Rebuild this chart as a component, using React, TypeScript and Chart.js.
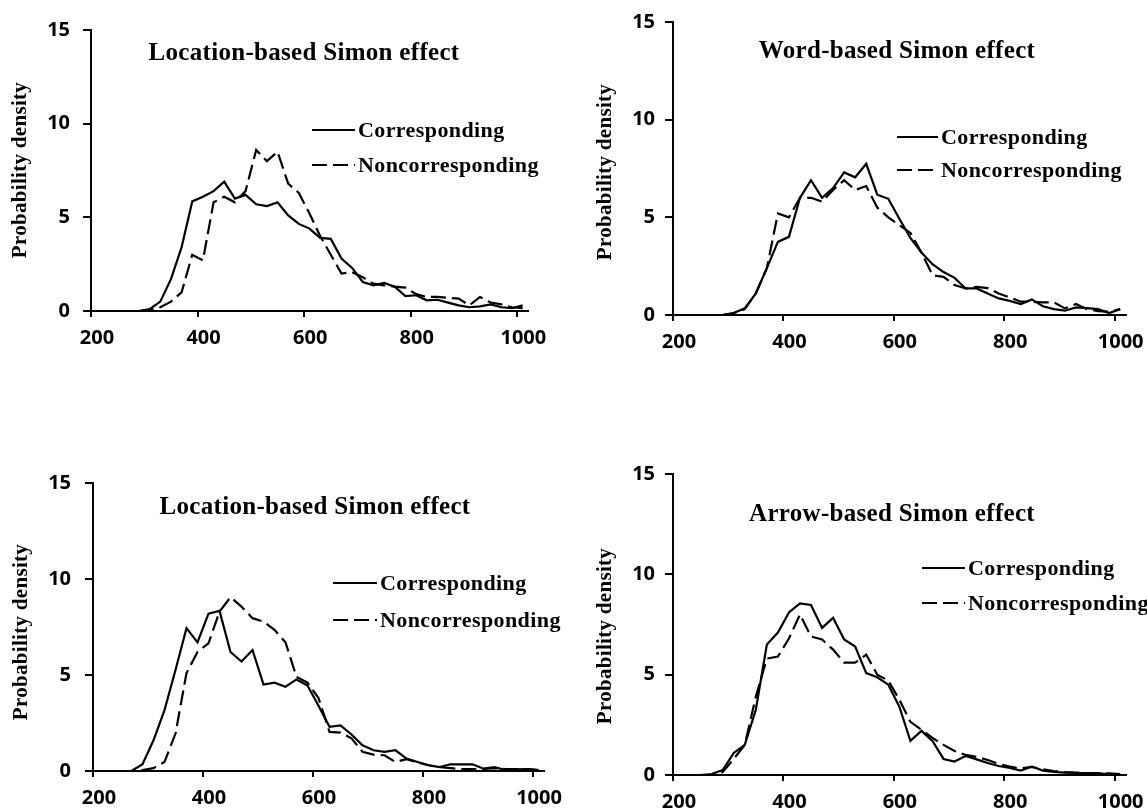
import React, { useEffect, useRef } from 'react';
import { Chart, registerables } from 'chart.js';

Chart.register(...registerables);

const RT_BINS = [250, 270, 290, 310, 330, 350, 370, 390, 410, 430, 450, 470, 490, 510, 530, 550, 570, 590, 610, 630, 650, 670, 690, 710, 730, 750, 770, 790, 810, 830, 850, 870, 890, 910, 930, 950, 970, 990, 1010];
const X_TICKS = [200, 400, 600, 800, 1000];
const Y_TICKS = [0, 5, 10, 15];

const LOC1_CORR = [0, 0, 0, 0.1, 0.5, 1.7, 3.4, 5.85, 6.1, 6.4, 6.9, 6.0, 6.2, 5.7, 5.6, 5.8, 5.1, 4.65, 4.4, 3.9, 3.85, 2.8, 2.3, 1.55, 1.37, 1.5, 1.3, 0.8, 0.84, 0.57, 0.6, 0.45, 0.3, 0.2, 0.25, 0.35, 0.2, 0.15, 0.3];
const LOC1_NONCORR = [0, 0, 0, 0.05, 0.2, 0.5, 1.0, 3.0, 2.7, 5.8, 6.1, 5.8, 6.4, 8.6, 8.0, 8.5, 6.8, 6.3, 5.2, 4.0, 3.0, 2.0, 2.07, 1.8, 1.46, 1.37, 1.3, 1.25, 0.9, 0.75, 0.75, 0.7, 0.66, 0.3, 0.75, 0.45, 0.35, 0.2, 0.15];
const WORD_CORR = [0, 0, 0, 0.1, 0.34, 1.1, 2.4, 3.74, 4.0, 6.0, 6.9, 6.0, 6.5, 7.3, 7.05, 7.74, 6.16, 5.95, 4.93, 3.95, 3.2, 2.6, 2.2, 1.9, 1.36, 1.36, 1.1, 0.85, 0.72, 0.56, 0.8, 0.45, 0.3, 0.22, 0.39, 0.35, 0.3, 0.1, 0.3];
const WORD_NONCORR = [0, 0, 0, 0.1, 0.3, 1.1, 2.4, 5.2, 5.0, 6.0, 6.0, 5.8, 6.4, 6.9, 6.4, 6.6, 5.5, 5.0, 4.6, 4.2, 3.2, 2.04, 1.95, 1.53, 1.36, 1.44, 1.38, 1.1, 0.9, 0.68, 0.68, 0.65, 0.65, 0.34, 0.56, 0.3, 0.2, 0.17, 0.3];
const LOC2_CORR = [0, 0, 0.35, 1.6, 3.17, 5.26, 7.44, 6.7, 8.2, 8.34, 6.2, 5.7, 6.3, 4.5, 4.6, 4.39, 4.77, 4.45, 3.4, 2.3, 2.38, 1.9, 1.34, 1.08, 1.0, 1.08, 0.65, 0.47, 0.3, 0.2, 0.35, 0.35, 0.35, 0.12, 0.2, 0.05, 0.08, 0.1, 0.05];
const LOC2_NONCORR = [0, 0, 0.05, 0.15, 0.47, 1.95, 5.1, 6.2, 6.65, 8.3, 9.05, 8.56, 7.96, 7.78, 7.35, 6.7, 4.9, 4.6, 3.8, 2.04, 2.0, 1.7, 1.0, 0.85, 0.82, 0.47, 0.62, 0.45, 0.3, 0.2, 0.15, 0.1, 0.1, 0.1, 0.15, 0.1, 0.1, 0.1, 0.05];
const ARROW_CORR = [0, 0.05, 0.25, 1.1, 1.5, 3.25, 6.5, 7.1, 8.1, 8.55, 8.47, 7.33, 7.83, 6.75, 6.4, 5.08, 4.87, 4.5, 3.4, 1.7, 2.2, 1.7, 0.8, 0.67, 0.95, 0.78, 0.6, 0.45, 0.35, 0.22, 0.42, 0.22, 0.15, 0.12, 0.1, 0.1, 0.08, 0.05, 0.05];
const ARROW_NONCORR = [0, 0, 0.15, 0.8, 1.5, 3.9, 5.8, 5.9, 6.8, 8.0, 6.9, 6.75, 6.25, 5.6, 5.6, 6.0, 5.0, 4.7, 3.75, 2.65, 2.25, 1.85, 1.5, 1.2, 1.0, 0.9, 0.75, 0.55, 0.42, 0.33, 0.4, 0.28, 0.2, 0.15, 0.12, 0.1, 0.1, 0.08, 0.05];

const TITLES = ['Location-based Simon effect', 'Word-based Simon effect', 'Location-based Simon effect', 'Arrow-based Simon effect'];
const LEGEND_LABELS = ['Corresponding', 'Noncorresponding'];
const Y_TITLE = 'Probability density';

const SERIF = '"Liberation Serif", "Times New Roman", serif';
const SANS = '"Open Sans", "Liberation Sans", sans-serif';

const PANELS = [
  { title: TITLES[0], corr: LOC1_CORR, non: LOC1_NONCORR, box: { l: 0, t: 0, w: 570, h: 380 }, area: { l: 91, t: 30, r: 528, b: 311 }, titleXY: [304, 54], legend: { x1: 312, x2: 355, y1: 130, y2: 165 }, yTitle: [21, 170], yPad: 13 },
  { title: TITLES[1], corr: WORD_CORR, non: WORD_NONCORR, box: { l: 580, t: 0, w: 567, h: 380 }, area: { l: 673, t: 21, r: 1128, b: 315 }, titleXY: [897, 52], legend: { x1: 897, x2: 938, y1: 137, y2: 170 }, yTitle: [606, 172], yPad: 10 },
  { title: TITLES[2], corr: LOC2_CORR, non: LOC2_NONCORR, box: { l: 0, t: 400, w: 570, h: 411 }, area: { l: 93, t: 483, r: 544, b: 771 }, titleXY: [315, 508], legend: { x1: 333, x2: 377, y1: 583, y2: 620 }, yTitle: [22, 632], yPad: 14 },
  { title: TITLES[3], corr: ARROW_CORR, non: ARROW_NONCORR, box: { l: 580, t: 400, w: 567, h: 411 }, area: { l: 673, t: 474, r: 1128, b: 775 }, titleXY: [892, 515], legend: { x1: 922, x2: 965, y1: 568, y2: 603 }, yTitle: [606, 636], yPad: 10 },
];

const DASH = [15, 6];

function Panel({ cfg }: { cfg: any }) {
  const ref = useRef<HTMLCanvasElement>(null);
  useEffect(() => {
    const { box, area } = cfg;
    const decor = {
      id: 'decor',
      afterDraw(chart: any) {
        const ctx = chart.ctx as any;
        ctx.save();
        ctx.fillStyle = '#000';
        ctx.strokeStyle = '#000';
        ctx.textBaseline = 'middle';
        ctx.textAlign = 'center';
        ctx.font = `bold 25px ${SERIF}`;
        ctx.letterSpacing = '0.3px';
        ctx.fillText(cfg.title, cfg.titleXY[0] - box.l, cfg.titleXY[1] - box.t);
        const lg = cfg.legend;
        ctx.lineWidth = 2.2;
        ctx.font = `bold 22px ${SERIF}`;
        ctx.letterSpacing = '0.4px';
        ctx.textAlign = 'left';
        [lg.y1, lg.y2].forEach((yy: number, i: number) => {
          ctx.setLineDash(i === 0 ? [] : DASH);
          ctx.beginPath();
          ctx.moveTo(lg.x1 - box.l, yy - box.t);
          ctx.lineTo(lg.x2 - box.l, yy - box.t);
          ctx.stroke();
          ctx.fillText(LEGEND_LABELS[i], lg.x2 + 3 - box.l, yy - box.t + 1);
        });
        ctx.setLineDash([]);
        ctx.letterSpacing = '0.3px';
        ctx.translate(cfg.yTitle[0] - box.l, cfg.yTitle[1] - box.t);
        ctx.rotate(-Math.PI / 2);
        ctx.textAlign = 'center';
        ctx.font = `bold 21px ${SERIF}`;
        ctx.fillText(Y_TITLE, 0, 0);
        ctx.restore();
      },
    };
    const mk = (vals: number[]) => RT_BINS.map((x, i) => ({ x, y: vals[i] }));
    const chart = new Chart(ref.current as HTMLCanvasElement, {
      type: 'line',
      data: {
        datasets: [
          { label: LEGEND_LABELS[0], data: mk(cfg.corr), borderColor: '#000', backgroundColor: '#000', borderWidth: 2.2, pointRadius: 0, tension: 0, fill: false },
          { label: LEGEND_LABELS[1], data: mk(cfg.non), borderColor: '#000', backgroundColor: '#000', borderWidth: 2.2, borderDash: DASH, pointRadius: 0, tension: 0, fill: false },
        ],
      },
      options: {
        responsive: false,
        animation: false,
        events: [],
        layout: { padding: { left: 0, top: area.t - box.t, right: box.l + box.w - area.r, bottom: 0 } },
        plugins: { legend: { display: false }, tooltip: { enabled: false }, title: { display: false } },
        scales: {
          x: {
            type: 'linear',
            min: 200,
            max: 1020,
            afterFit: (s: any) => { s.height = box.t + box.h - area.b; },
            afterBuildTicks: (s: any) => { s.ticks = X_TICKS.map((v) => ({ value: v })); },
            grid: { drawOnChartArea: false, color: '#000', lineWidth: 2, tickLength: 6, tickWidth: 2 },
            border: { display: true, color: '#000', width: 2 },
            ticks: { color: '#000', font: { family: SANS, weight: 'bold', size: 20 }, padding: 9, labelOffset: 6, maxRotation: 0, autoSkip: false, callback: (v: any) => String(v) },
          },
          y: {
            type: 'linear',
            min: 0,
            max: 15,
            afterFit: (s: any) => { s.width = area.l - box.l; },
            afterBuildTicks: (s: any) => { s.ticks = Y_TICKS.map((v) => ({ value: v })); },
            grid: { drawOnChartArea: false, color: '#000', lineWidth: 2, tickLength: 8, tickWidth: 2 },
            border: { display: true, color: '#000', width: 2 },
            ticks: { color: '#000', font: { family: SANS, weight: 'bold', size: 20 }, padding: cfg.yPad, callback: (v: any) => String(v) },
          },
        },
      } as any,
      plugins: [decor],
    });
    return () => chart.destroy();
  }, [cfg]);
  return (
    <canvas
      ref={ref}
      width={cfg.box.w}
      height={cfg.box.h}
      style={{ position: 'absolute', left: cfg.box.l, top: cfg.box.t, width: cfg.box.w, height: cfg.box.h }}
    />
  );
}

export default function App() {
  return (
    <div style={{ position: 'absolute', left: 0, top: 0, width: 1147, height: 811, background: '#fff' }}>
      {PANELS.map((p, i) => (
        <Panel key={i} cfg={p} />
      ))}
    </div>
  );
}
